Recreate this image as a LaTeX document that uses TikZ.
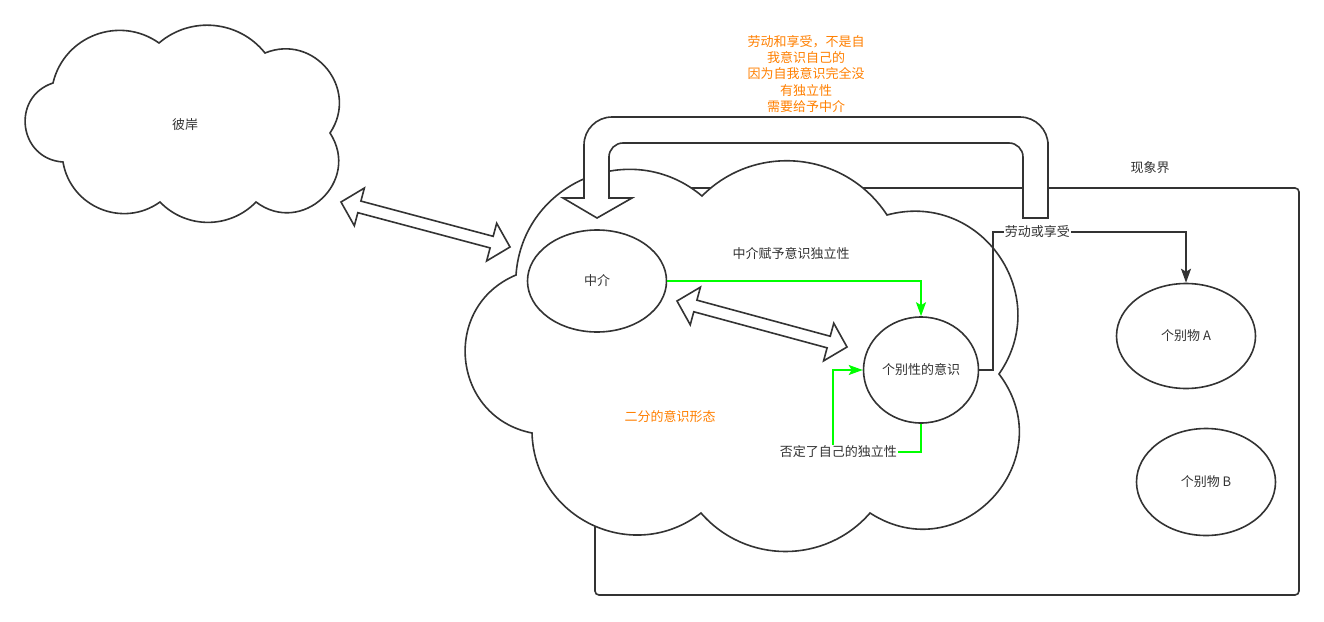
\documentclass[tikz,border=0pt]{standalone}
\usepackage{fontspec}
\setmainfont{Noto Sans CJK SC}
\usepackage{tikz}
\usetikzlibrary{calc,shapes.geometric,arrows.meta}

\definecolor{ink}{HTML}{333333}
\definecolor{okgreen}{HTML}{00FF00}
\definecolor{noteorange}{HTML}{FF8000}

% one puff of a cloud: circular bump from #1 to #2, leaving the chord at #3 degrees
\newcommand{\puff}[3]{.. controls ($(#1)!2/3/(1+cos(#3))!-#3:(#2)$) and ($(#2)!2/3/(1+cos(#3))!#3:(#1)$) .. (#2)}

% broad double arrow from #1 to #2
\newcommand{\fatarrow}[2]{%
  \draw[fat] (#1)
    -- ($(#1)!19pt!(#2)!19.5pt!90:(#2)$)
    -- ($(#1)!19pt!(#2)!6pt!90:(#2)$)
    -- ($(#2)!19pt!(#1)!6pt!-90:(#1)$)
    -- ($(#2)!19pt!(#1)!19.5pt!-90:(#1)$)
    -- (#2)
    -- ($(#2)!19pt!(#1)!19.5pt!90:(#1)$)
    -- ($(#2)!19pt!(#1)!6pt!90:(#1)$)
    -- ($(#1)!19pt!(#2)!6pt!-90:(#2)$)
    -- ($(#1)!19pt!(#2)!19.5pt!-90:(#2)$)
    -- cycle;}

\begin{document}
\begin{tikzpicture}[x=1pt, y=-1pt, every node/.style={font=\fontsize{13}{16.4}\selectfont}]
    % Styles
    \tikzstyle{cloudline} = [draw=ink, line width=1.6pt, fill=white]
    \tikzstyle{blob} = [ellipse, draw=ink, line width=1.6pt, fill=white, inner sep=0pt, text=ink]
    \tikzstyle{frame} = [rectangle, rounded corners=4pt, draw=ink, line width=1.6pt]
    \tikzstyle{txt} = [text=ink, inner sep=1pt]
    \tikzstyle{note} = [text=noteorange, align=center, inner sep=1pt]
    \tikzstyle{lbl} = [fill=white, text=ink, inner sep=1pt]
    \tikzstyle{glink} = [draw=okgreen, line width=1.8pt, -{Stealth[length=14pt, width=10pt, inset=3pt]}]
    \tikzstyle{link} = [draw=ink, line width=1.6pt, -{Stealth[length=14pt, width=10pt, inset=3pt]}]
    \tikzstyle{fat} = [draw=ink, line width=1.6pt, fill=white, line join=miter]

    \useasboundingbox (0,0) rectangle (1324,621);
    \fill[white] (0,0) rectangle (1324,621);

    % Phenomenal world
    \node[frame, minimum width=704pt, minimum height=407pt] (world) at (947,391.5) {};
    \node[txt] (worldlbl) at (1150,168) {现象界};

    % Clouds
    \draw[cloudline] (53,83) \puff{53,83}{63,162}{79} \puff{63,162}{160,202}{58}
        \puff{160,202}{256,202}{46} \puff{256,202}{330,133}{80}
        \puff{330,133}{265,53}{73} \puff{265,53}{159,43}{46}
        \puff{159,43}{53,83}{56} -- cycle;
    \node[txt] (far) at (185,125) {彼岸};

    \draw[cloudline] (516,275) \puff{516,275}{532,433}{73} \puff{532,433}{701,513}{63}
        \puff{701,513}{870,513}{49} \puff{870,513}{999,374}{80}
        \puff{999,374}{887,215}{70} \puff{887,215}{702,196}{51}
        \puff{702,196}{516,275}{63} -- cycle;
    \node[note] (split) at (670,417) {二分的意识形态};

    % Nodes
    \node[blob, minimum width=139pt, minimum height=102pt] (med) at (597,281) {中介};
    \node[blob, minimum width=115pt, minimum height=106pt] (ind) at (921,370) {个别性的意识};
    \node[blob, minimum width=139pt, minimum height=105pt] (objA) at (1186,336) {个别物 A};
    \node[blob, minimum width=139pt, minimum height=107pt] (objB) at (1206,482) {个别物 B};
    \node[txt] (give) at (791,254) {中介赋予意识独立性};

    % Arrows
    \draw[glink] (med.east) -| (ind.north);
    \draw[glink] (ind.south) |- node[lbl, pos=0.97] {否定了自己的独立性} (833,452) |- (ind.west);
    \draw[link] (ind.east) -| (993,232) -| node[lbl, pos=0.115] {劳动或享受} (objA.north);

    % Broad arrows
    \coordinate (farL) at (341,202);
    \coordinate (farR) at (510,247);
    \coordinate (medL) at (677,301);
    \coordinate (medR) at (847,347);
    \fatarrow{farL}{farR}
    \fatarrow{medL}{medR}

    % Pipe back to the mediator
    \draw[fat] (1023,218) -- (1023,190) [rounded corners=14pt] -- (1023,143) -- (609,143) -- (609,170)
        [sharp corners] -- (609,198) -- (632,198) -- (597,218) -- (563,198) -- (584,198) -- (584,170)
        [rounded corners=28pt] -- (584,117) -- (1048,117) -- (1048,170) [sharp corners] -- (1048,218) -- cycle;
    \node[note] (pipelbl) at (806,74) {劳动和享受，不是自\\我意识自己的\\因为自我意识完全没\\有独立性\\需要给予中介};
\end{tikzpicture}
\end{document}
